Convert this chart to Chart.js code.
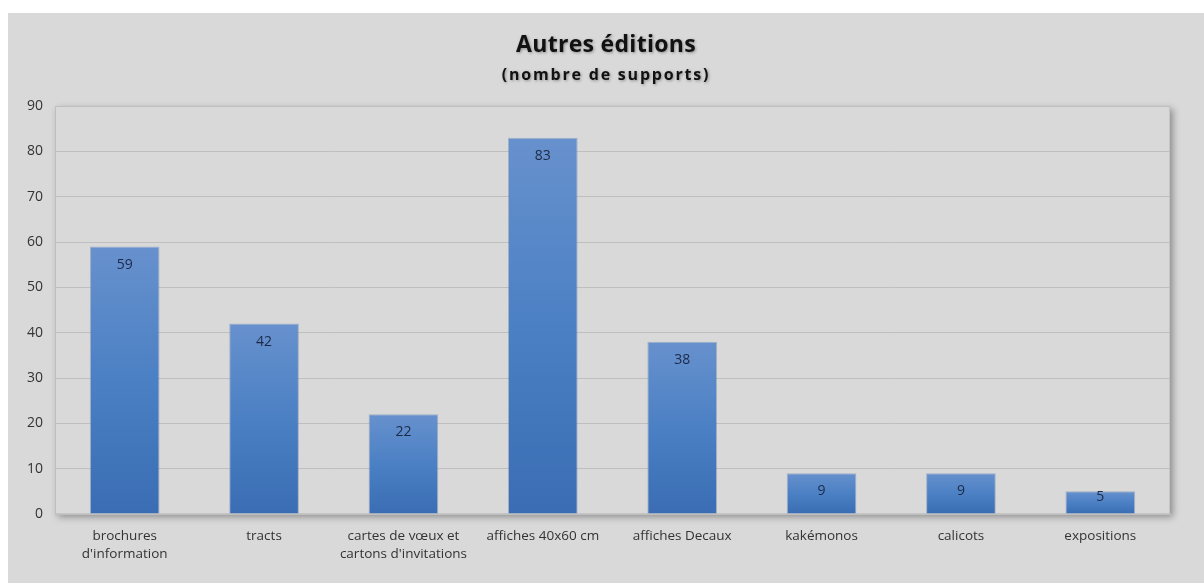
<!DOCTYPE html>
<html>
<head>
<meta charset="utf-8">
<script src="https://cdn.jsdelivr.net/npm/chart.js@4.4.0/dist/chart.umd.min.js"></script>
<style>
  html, body { margin: 0; padding: 0; background: #ffffff; }
  #wrap { position: absolute; left: 8px; top: 13px; width: 1196px; height: 570px; background: #d9d9d9; }
</style>
</head>
<body>
<div id="wrap"><canvas id="chart" width="1196" height="570"></canvas></div>
<script>
const categories = [
    ['brochures', "d'information"],
    'tracts',
    ['cartes de vœux et', "cartons d'invitations"],
    'affiches 40x60 cm',
    'affiches Decaux',
    'kakémonos',
    'calicots',
    'expositions'
];
const values = [59, 42, 22, 83, 38, 9, 9, 5];
const titleText = 'Autres éditions';
const subtitleText = '(nombre de supports)';

const FONT = "'Open Sans', 'DejaVu Sans', sans-serif";

// titre et sous-titre (espacement des lettres + ombre légère)
const titles = {
    id: 'titles',
    afterDraw(chart) {
        const { ctx } = chart;
        const cx = chart.width / 2;
        ctx.save();
        ctx.textAlign = 'center';
        ctx.textBaseline = 'middle';
        ctx.fillStyle = '#111111';
        ctx.shadowColor = 'rgba(0,0,0,0.35)';
        ctx.shadowBlur = 3;
        ctx.shadowOffsetX = 1;
        ctx.shadowOffsetY = 1;
        ctx.font = 'bold 23px ' + FONT;
        ctx.letterSpacing = '0.3px';
        ctx.fillText(titleText, cx, 32);
        ctx.font = 'bold 16px ' + FONT;
        ctx.letterSpacing = '1.8px';
        ctx.fillText(subtitleText, cx, 62);
        ctx.restore();
    }
};

// fond de la zone de tracé avec ombre
const plotBackground = {
    id: 'plotBackground',
    beforeDraw(chart) {
        const { ctx, chartArea: a } = chart;
        ctx.save();
        ctx.shadowColor = 'rgba(0,0,0,0.35)';
        ctx.shadowBlur = 7;
        ctx.shadowOffsetX = 3;
        ctx.shadowOffsetY = 3;
        ctx.fillStyle = '#d9d9d9';
        ctx.fillRect(a.left, a.top, a.right - a.left, a.bottom - a.top);
        ctx.restore();
        ctx.save();
        ctx.strokeStyle = '#c4c4c4';
        ctx.lineWidth = 1;
        ctx.strokeRect(a.left + 0.5, a.top + 0.5, a.right - a.left - 1, a.bottom - a.top - 1);
        ctx.restore();
    }
};

// étiquettes de valeur dans le haut des barres
const valueLabels = {
    id: 'valueLabels',
    afterDatasetsDraw(chart) {
        const { ctx } = chart;
        const meta = chart.getDatasetMeta(0);
        ctx.save();
        ctx.font = '14px ' + FONT;
        ctx.fillStyle = '#1c2a47';
        ctx.textAlign = 'center';
        ctx.textBaseline = 'middle';
        meta.data.forEach((bar, i) => {
            const h = bar.base - bar.y;
            const off = h < 30 ? 6 : 18;
            ctx.fillText(String(values[i]), bar.x, bar.y + off);
        });
        ctx.restore();
    }
};

function barGradient(context) {
    const chart = context.chart;
    if (!chart.chartArea || !chart.scales.y) return '#4a7fc1';
    const v = context.raw;
    const y = chart.scales.y;
    const top = y.getPixelForValue(v);
    const bottom = y.getPixelForValue(0);
    const g = chart.ctx.createLinearGradient(0, top, 0, bottom);
    g.addColorStop(0, '#6791cd');
    g.addColorStop(0.5, '#4b80c4');
    g.addColorStop(1, '#3a6db3');
    return g;
}

const ctx = document.getElementById('chart').getContext('2d');
new Chart(ctx, {
    type: 'bar',
    data: {
        labels: categories,
        datasets: [{
            data: values,
            backgroundColor: barGradient,
            borderColor: 'rgba(60,100,160,0.35)',
            borderWidth: 1,
            categoryPercentage: 1,
            barPercentage: 0.5
        }]
    },
    options: {
        responsive: false,
        animation: false,
        devicePixelRatio: 1,
        layout: { padding: { left: 0, right: 34, top: 93, bottom: 0 } },
        plugins: {
            legend: { display: false },
            tooltip: { enabled: false },
            title: { display: false }
        },
        scales: {
            x: {
                grid: { display: false },
                border: { display: true, color: '#bfbfbf' },
                ticks: {
                    color: '#333333',
                    font: { family: FONT, size: 13.5, lineHeight: 1.35 },
                    maxRotation: 0,
                    autoSkip: false,
                    padding: 5
                },
                afterFit(s) { s.height = 69; }
            },
            y: {
                min: 0,
                max: 90,
                ticks: {
                    stepSize: 10,
                    color: '#333333',
                    font: { family: FONT, size: 14 },
                    padding: 12
                },
                grid: { color: '#bfbfbf', drawTicks: false },
                border: { display: true, color: '#bfbfbf' },
                afterFit(s) { s.width = 47; }
            }
        }
    },
    plugins: [plotBackground, valueLabels, titles]
});
</script>
</body>
</html>
